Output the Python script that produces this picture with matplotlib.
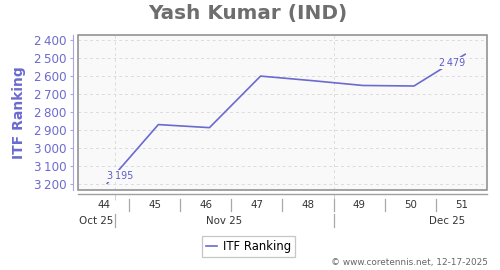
import datetime as dt

import matplotlib

matplotlib.use("Agg")
import matplotlib.dates as mdates
import matplotlib.pyplot as plt
from matplotlib.lines import Line2D
from matplotlib.patches import Rectangle
from matplotlib.transforms import blended_transform_factory

# data
dates = [dt.date(2025, 10, 31), dt.date(2025, 11, 7), dt.date(2025, 11, 14), dt.date(2025, 11, 21),
         dt.date(2025, 11, 28), dt.date(2025, 12, 5), dt.date(2025, 12, 12), dt.date(2025, 12, 19)]
ranking = [3195, 2869, 2886, 2600, 2625, 2652, 2655, 2479]
week_numbers = [44, 45, 46, 47, 48, 49, 50, 51]
week_starts = [dt.date(2025, 10, 27) + dt.timedelta(days=7 * i) for i in range(len(week_numbers))]
month_starts = [dt.date(2025, 10, 1), dt.date(2025, 11, 1), dt.date(2025, 12, 1), dt.date(2026, 1, 1)]
month_labels = ["Oct 25", "Nov 25", "Dec 25"]
y_ticks = [2400, 2500, 2600, 2700, 2800, 2900, 3000, 3100, 3200]

x_start = dt.date(2025, 10, 27)
x_end = dt.date(2025, 12, 22)

W, H = 500, 270
blue = "#6a6acf"
label_blue = "#6b6bd0"
bg = "#f9f9f9"


def fy(px):
    return 1 - px / H


def fmt(v):
    s = f"{v:,}"
    return s.replace(",", "\u2009")


fig = plt.figure(figsize=(W / 100, H / 100), dpi=100)
ax = fig.add_axes([78 / W, fy(190), (487 - 78) / W, (190 - 35) / H])
ax.set_facecolor(bg)

xd = mdates.date2num(dates)
ax.plot(xd, ranking, color=blue, linewidth=1.2, label="ITF Ranking", zorder=3)

ax.set_xlim(mdates.date2num(x_start), mdates.date2num(x_end))
ax.set_ylim(3232, 2372)

# y axis
ax.set_yticks(y_ticks)
ax.set_yticklabels([fmt(v) for v in y_ticks])
ax.tick_params(axis="y", direction="out", length=2.4, width=0.8, color="#a8a8dc",
               labelcolor=label_blue, labelsize=8.6, pad=2.3)
ax.spines["left"].set_position(("outward", 3.6))
ax.spines["left"].set_color("#a8a8dc")
ax.spines["left"].set_linewidth(0.8)
ax.set_ylabel("ITF Ranking", color=label_blue, fontsize=10, fontweight="bold")
ax.yaxis.set_label_coords(-0.128, 0.5)

# x axis: month boundaries as grid, labels drawn by hand below
ax.set_xticks(mdates.date2num(month_starts[1:3]))
ax.tick_params(axis="x", direction="out", length=4, width=0.7, color="#d0d0d0",
               labelbottom=False)
ax.spines["bottom"].set_position(("outward", 3.1))
ax.spines["bottom"].set_color("#a0a0a0")
ax.spines["bottom"].set_linewidth(1.0)
ax.spines["top"].set_visible(False)
ax.spines["right"].set_visible(False)

ax.grid(True, color="#dcdcdc", linestyle=(0, (3, 3)), linewidth=0.7)
ax.set_axisbelow(True)

ax.add_patch(Rectangle((0, 0), 1, 1, transform=ax.transAxes, fill=False,
                       edgecolor="#8a8a8a", linewidth=1.1, clip_on=False, zorder=4))

# value labels at the ends
box = dict(boxstyle="square,pad=0.1", facecolor=bg, edgecolor="none")
ax.annotate(fmt(ranking[0]), (xd[0], ranking[0]), xytext=(0, 5.4), textcoords="offset points",
            ha="left", va="center", fontsize=6.9, color="#5c5cc8", bbox=box, zorder=5)
ax.annotate(fmt(ranking[-1]), (xd[-1], ranking[-1]), xytext=(0, -6.5), textcoords="offset points",
            ha="right", va="center", fontsize=6.9, color="#5c5cc8", bbox=box, zorder=5)

# week and month rows under the plot
tr = blended_transform_factory(ax.transData, fig.transFigure)
x0, x1 = ax.get_xlim()
for wk, ws in zip(week_numbers, week_starts):
    c = mdates.date2num(ws) + 3.5
    fig.text(c, fy(204.5), str(wk), transform=tr, ha="center", va="center",
             fontsize=7.4, color="#333333")
    b = mdates.date2num(ws)
    if x0 < b < x1:
        fig.add_artist(Line2D([b, b], [fy(198.5), fy(210.5)], transform=tr,
                              color="#a8a8a8", linewidth=0.9))

for lab, m0, m1 in zip(month_labels, month_starts[:-1], month_starts[1:]):
    a, b = mdates.date2num(m0), mdates.date2num(m1)
    if a < x0:
        c = (x0 + b) / 2
    else:
        c = (a + b) / 2
    fig.text(c, fy(221), lab, transform=tr, ha="center", va="center",
             fontsize=7.4, color="#333333")
    if x0 < a < x1:
        fig.add_artist(Line2D([a, a], [fy(213.5), fy(227)], transform=tr,
                              color="#a8a8a8", linewidth=0.9))

fig.text(248 / W, fy(13), "Yash Kumar (IND)", ha="center", va="center",
         fontsize=14.4, fontweight="bold", color="#6e6e6e")

leg = fig.legend(loc="center", bbox_to_anchor=(248.5 / W, fy(246.3)), fontsize=8.4,
                 frameon=True, fancybox=False, handlelength=1.0, handletextpad=0.5,
                 borderpad=0.35, borderaxespad=0)
leg.get_frame().set_edgecolor("#b8b8b8")
leg.get_frame().set_linewidth(0.9)

fig.text(488 / W, fy(262), "\u00a9 www.coretennis.net, 12-17-2025", ha="right", va="center",
         fontsize=6.4, color="#666666")

fig.savefig("out.png", dpi=100)
